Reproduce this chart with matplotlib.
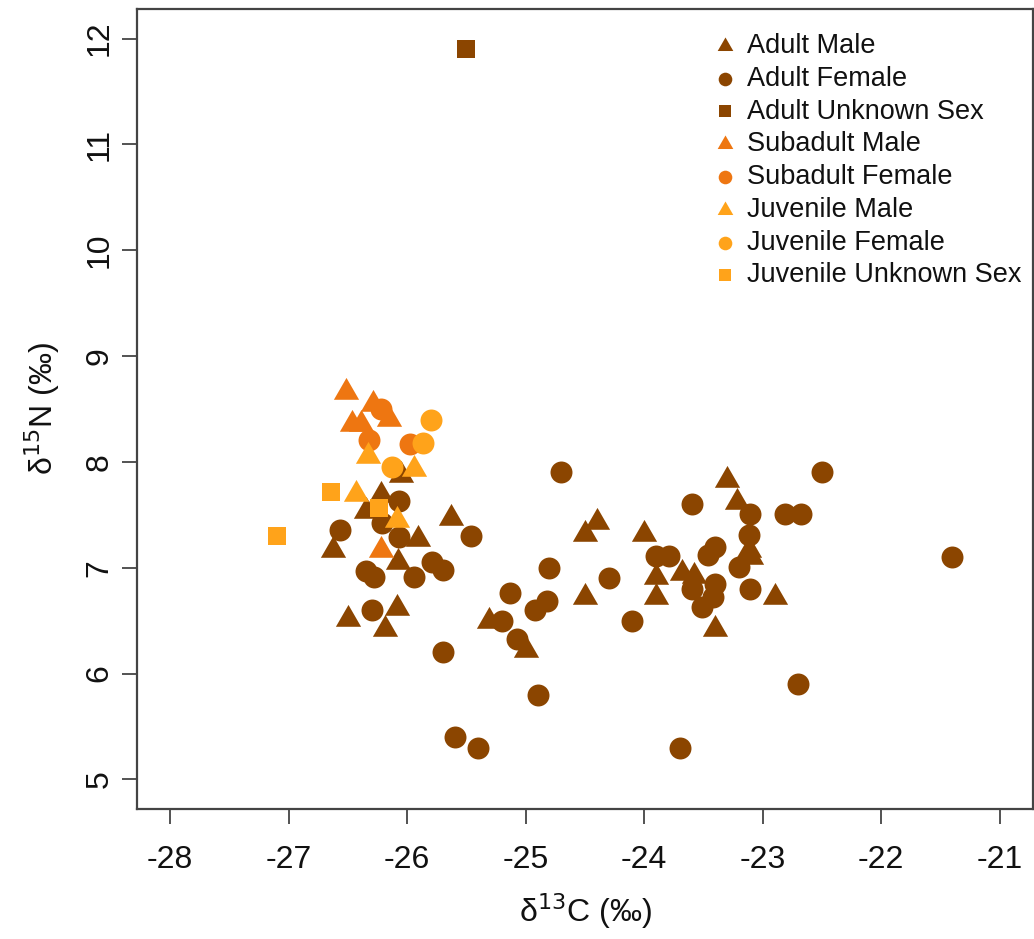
import matplotlib
matplotlib.use("Agg")
import matplotlib.pyplot as plt
from matplotlib.path import Path
import numpy as np

plt.rcParams['font.family'] = ['Liberation Sans', 'DejaVu Sans']

# ---- data (delta13C, delta15N) ----
adult_male_x = [-26.63, -26.50, -26.09, -26.19, -26.08, -25.91, -26.22, -26.35, -26.05, -25.63,
                -25.31, -25.00, -24.50, -24.40, -24.50, -24.00, -23.90, -23.90, -23.68, -23.58,
                -23.40, -23.30, -23.22, -23.12, -23.10, -22.90]
adult_male_y = [7.17, 6.52, 6.62, 6.42, 7.05, 7.27, 7.69, 7.54, 7.88, 7.47,
                6.50, 6.22, 7.32, 7.43, 6.72, 7.32, 6.91, 6.72, 6.95, 6.92,
                6.42, 7.83, 7.62, 7.17, 7.10, 6.72]

adult_female_x = [-26.57, -26.07, -26.21, -26.07, -26.35, -26.28, -25.94, -25.79, -25.70, -26.30,
                  -25.70, -25.60, -25.40, -25.46, -24.70, -24.80, -24.30, -25.13, -25.20, -24.92,
                  -24.82, -25.07, -24.90, -24.10, -23.60, -23.90, -23.79, -23.60, -23.40, -23.46,
                  -23.40, -23.42, -23.51, -23.20, -23.11, -23.12, -23.11, -22.81, -22.68, -22.50,
                  -22.70, -23.70, -21.40]
adult_female_y = [7.36, 7.63, 7.42, 7.29, 6.97, 6.91, 6.91, 7.05, 6.98, 6.60,
                  6.20, 5.40, 5.30, 7.30, 7.90, 7.00, 6.90, 6.76, 6.50, 6.60,
                  6.69, 6.33, 5.80, 6.50, 7.60, 7.11, 7.11, 6.80, 7.20, 7.12,
                  6.85, 6.72, 6.63, 7.01, 7.51, 7.31, 6.80, 7.51, 7.51, 7.90,
                  5.90, 5.30, 7.10]

adult_unknown_x = [-25.50]
adult_unknown_y = [11.90]

subadult_male_x = [-26.52, -26.29, -26.15, -26.47, -26.39, -26.22]
subadult_male_y = [8.66, 8.55, 8.41, 8.36, 8.36, 7.17]

subadult_female_x = [-26.22, -26.32, -25.98]
subadult_female_y = [8.50, 8.21, 8.17]

juvenile_male_x = [-26.33, -25.94, -26.43, -26.09]
juvenile_male_y = [8.06, 7.93, 7.70, 7.45]

juvenile_female_x = [-25.80, -25.87, -26.13]
juvenile_female_y = [8.40, 8.18, 7.95]

juvenile_unknown_x = [-27.10, -26.64, -26.24]
juvenile_unknown_y = [7.30, 7.72, 7.56]

x_ticks = [-28, -27, -26, -25, -24, -23, -22, -21]
y_ticks = [5, 6, 7, 8, 9, 10, 11, 12]

col_adult = '#8B4500'
col_sub = '#EE7611'
col_juv = '#FFA31A'

# equilateral triangle centred on its centroid (like R pch 17)
tri = Path([(0, 0.5774), (-0.5, -0.2887), (0.5, -0.2887), (0, 0.5774)],
           [Path.MOVETO, Path.LINETO, Path.LINETO, Path.CLOSEPOLY])

S_CIRC = 250
S_TRI = 440
S_SQ = 175

fig = plt.figure(figsize=(10.34, 9.39), dpi=100)
ax = fig.add_axes([137/1034, 1 - 809/939, (1033 - 137)/1034, (809 - 9)/939])

groups = [
    ("Adult Male", adult_male_x, adult_male_y, tri, col_adult, S_TRI),
    ("Adult Female", adult_female_x, adult_female_y, 'o', col_adult, S_CIRC),
    ("Adult Unknown Sex", adult_unknown_x, adult_unknown_y, 's', col_adult, S_SQ),
    ("Subadult Male", subadult_male_x, subadult_male_y, tri, col_sub, S_TRI),
    ("Subadult Female", subadult_female_x, subadult_female_y, 'o', col_sub, S_CIRC),
    ("Juvenile Male", juvenile_male_x, juvenile_male_y, tri, col_juv, S_TRI),
    ("Juvenile Female", juvenile_female_x, juvenile_female_y, 'o', col_juv, S_CIRC),
    ("Juvenile Unknown Sex", juvenile_unknown_x, juvenile_unknown_y, 's', col_juv, S_SQ),
]

for i, (lab, xs, ys, mk, col, s) in enumerate(groups):
    ax.scatter(xs, ys, marker=mk, s=s, c=col, linewidths=0, label=lab, zorder=3 + i)

ax.set_xlim(-28.28, -20.72)
ax.set_ylim(4.72, 12.28)
ax.set_xticks(x_ticks)
ax.set_yticks(y_ticks)
ax.set_xticklabels([str(t) for t in x_ticks])
ax.set_yticklabels([str(t) for t in y_ticks])

for sp in ax.spines.values():
    sp.set_color('#444444')
    sp.set_linewidth(1.6)

ax.tick_params(axis='both', direction='out', length=11, width=1.3, color='#444444',
               labelsize=23, labelcolor='#111111')
ax.tick_params(axis='x', pad=15)
plt.setp(ax.get_yticklabels(), rotation=90, va='center', ha='center')
ax.tick_params(axis='y', pad=16)

ax.set_xlabel('δ$^{13}$C (‰)', fontsize=23, color='#111111', labelpad=12)
ax.set_ylabel('δ$^{15}$N (‰)', fontsize=23, color='#111111', labelpad=16)

leg = ax.legend(loc='upper left', bbox_to_anchor=((711 - 137) / (1033 - 137), 1.0 - 24 / 800),
                frameon=False, fontsize=19.5, markerscale=0.62, handlelength=1.0,
                handletextpad=0.34, labelspacing=0.25, borderaxespad=0, borderpad=0)
for t in leg.get_texts():
    t.set_color('#111111')

fig.savefig('out.png', dpi=100)
